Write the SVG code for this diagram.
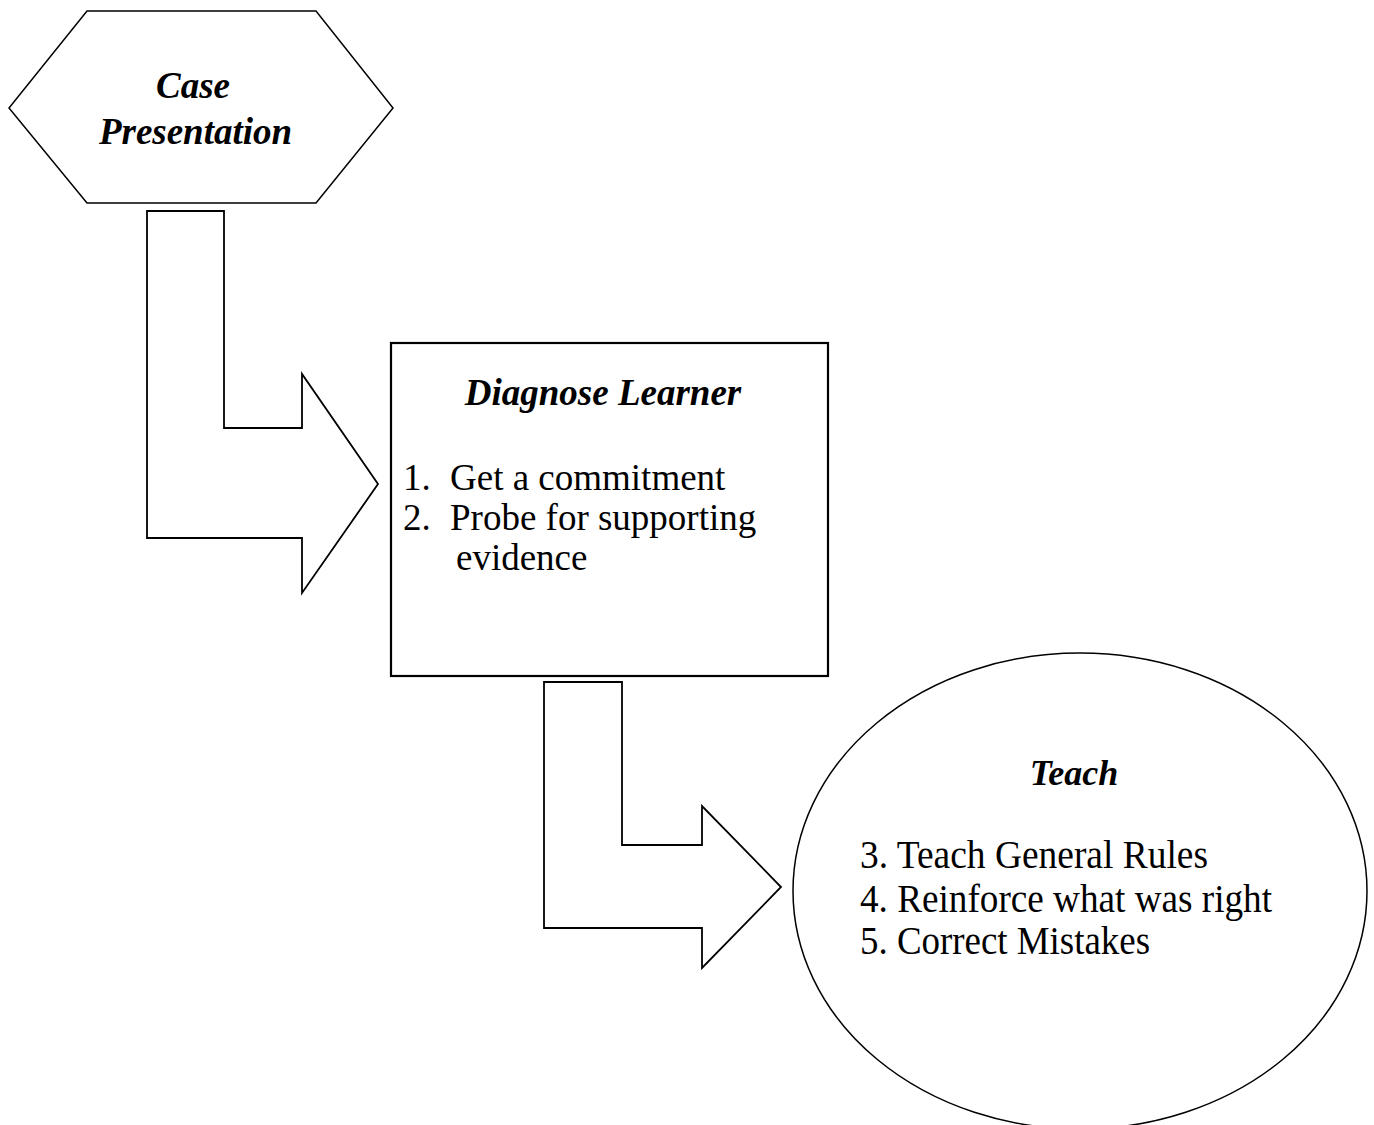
<svg xmlns="http://www.w3.org/2000/svg" width="1374" height="1125" viewBox="0 0 1374 1125">
<style>
  .shape { fill: #ffffff; stroke: #000000; stroke-linejoin: miter; }
  .title { font-family: "Liberation Serif", "Times New Roman", serif; font-weight: bold; font-style: italic; fill: #000; }
  .body { font-family: "Liberation Serif", "Times New Roman", serif; fill: #000; }
</style>
<rect width="1374" height="1125" fill="#ffffff"/>
<g id="connectors">
  <polygon class="shape" stroke-width="1.8" points="147,211 224,211 224,428 302,428 302,374 378,484 302,593 302,538 147,538"/>
  <polygon class="shape" stroke-width="1.8" points="544,682 622,682 622,845 702,845 702,806 781,887 702,968 702,928 544,928"/>
</g>
<g id="node-case-presentation">
  <polygon class="shape" stroke-width="1.5" points="87,11 316,11 393,108 316,203 87,203 9,108"/>
  <text class="title" font-size="37" x="193" y="98" text-anchor="middle">Case</text>
  <text class="title" font-size="37" x="195.5" y="144" text-anchor="middle">Presentation</text>
</g>
<g id="node-diagnose-learner">
  <rect class="shape" stroke-width="2.2" x="391" y="343" width="437" height="333"/>
  <text class="title" font-size="37" x="603" y="405" text-anchor="middle">Diagnose Learner</text>
  <text class="body" font-size="37" y="490"><tspan x="403">1.</tspan><tspan x="450">Get a commitment</tspan></text>
  <text class="body" font-size="37" y="530"><tspan x="403">2.</tspan><tspan x="450">Probe for supporting</tspan></text>
  <text class="body" font-size="37" x="456" y="570">evidence</text>
</g>
<g id="node-teach">
  <ellipse class="shape" stroke-width="1.5" cx="1080" cy="891" rx="287" ry="238"/>
  <text class="title" font-size="36" x="1074" y="785" text-anchor="middle">Teach</text>
  <text class="body" font-size="40" x="860" y="868" textLength="348" lengthAdjust="spacingAndGlyphs">3. Teach General Rules</text>
  <text class="body" font-size="40" x="860" y="912" textLength="412" lengthAdjust="spacingAndGlyphs">4. Reinforce what was right</text>
  <text class="body" font-size="40" x="860" y="954" textLength="290" lengthAdjust="spacingAndGlyphs">5. Correct Mistakes</text>
</g>
</svg>
